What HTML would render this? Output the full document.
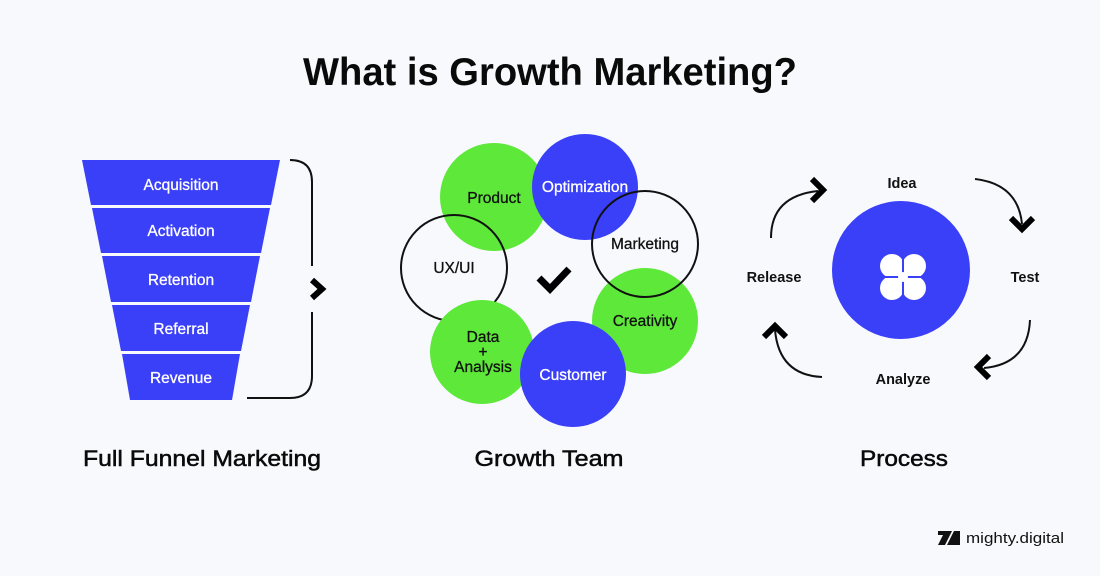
<!DOCTYPE html>
<html><head><meta charset="utf-8"><style>
html,body{margin:0;padding:0;background:#f7f9fd;}
svg{display:block;font-family:"Liberation Sans",sans-serif;}
</style></head><body>
<svg width="1100" height="576" viewBox="0 0 1100 576" xmlns="http://www.w3.org/2000/svg">
<rect width="1100" height="576" fill="#f7f9fd"/>
<text x="550" y="85" text-anchor="middle" font-size="39" font-weight="bold" fill="#0a0a0a" textLength="494" lengthAdjust="spacingAndGlyphs">What is Growth Marketing?</text>

<!-- Funnel -->
<g fill="#3a3ff8">
<polygon points="82,160 280,160 271,205 91,205"/>
<polygon points="92,208 270,208 261,253 101,253"/>
<polygon points="102,256 260,256 251,302 111,302"/>
<polygon points="112,305 250,305 241,351 121,351"/>
<polygon points="122,354 240,354 232,400 130,400"/>
</g>
<g fill="#fff" font-size="15.5" text-anchor="middle" stroke="#fff" stroke-width="0.3">
<text x="181" y="190">Acquisition</text>
<text x="181" y="236">Activation</text>
<text x="181" y="285">Retention</text>
<text x="181" y="334">Referral</text>
<text x="181" y="383">Revenue</text>
</g>
<path d="M290,160 Q312,160 312,182 L312,266" fill="none" stroke="#111" stroke-width="2"/>
<path d="M312,312 L312,376 Q312,398 290,398 L247,398" fill="none" stroke="#111" stroke-width="2"/>
<path d="M312,280 L322,289 L312,298" fill="none" stroke="#000" stroke-width="6"/>
<text x="202" y="466" text-anchor="middle" font-size="22" fill="#0a0a0a" stroke="#0a0a0a" stroke-width="0.5" textLength="238" lengthAdjust="spacingAndGlyphs">Full Funnel Marketing</text>

<!-- Growth team -->
<circle cx="494" cy="197" r="54" fill="#5de83a"/>
<circle cx="585" cy="187" r="53" fill="#3a3ff8"/>
<circle cx="645" cy="321" r="53" fill="#5de83a"/>
<circle cx="645" cy="244" r="53" fill="none" stroke="#111" stroke-width="2"/>
<circle cx="454" cy="268" r="53" fill="none" stroke="#111" stroke-width="2"/>
<circle cx="482" cy="352" r="52" fill="#5de83a"/>
<circle cx="573" cy="374" r="53" fill="#3a3ff8"/>
<path d="M539,278 L550,289 L569,269" fill="none" stroke="#000" stroke-width="7"/>
<g font-size="15.5" text-anchor="middle" fill="#111" stroke="#111" stroke-width="0.3">
<text x="494" y="203">Product</text>
<text x="585" y="192" fill="#fff" stroke="#fff">Optimization</text>
<text x="645" y="249">Marketing</text>
<text x="454" y="273">UX/UI</text>
<text x="645" y="326">Creativity</text>
<text x="483" y="342">Data</text>
<text x="483" y="357">+</text>
<text x="483" y="372">Analysis</text>
<text x="573" y="380" fill="#fff" stroke="#fff">Customer</text>
</g>
<text x="549" y="466" text-anchor="middle" font-size="22" fill="#0a0a0a" stroke="#0a0a0a" stroke-width="0.5" textLength="149" lengthAdjust="spacingAndGlyphs">Growth Team</text>

<!-- Process -->
<circle cx="901" cy="270" r="69" fill="#3a3ff8"/>
<g fill="#fff">
<circle cx="892" cy="266" r="12"/><circle cx="914" cy="266" r="12"/>
<circle cx="892" cy="288" r="12"/><circle cx="914" cy="288" r="12"/>
</g>
<g fill="#3a3ff8">
<rect x="902" y="254" width="2" height="46"/>
<rect x="880" y="276" width="46" height="2"/>
</g>
<g fill="#fff">
<circle cx="903" cy="277" r="5"/>
</g>
<g fill="none" stroke="#111" stroke-width="2">
<path d="M771,238 Q771,196 818,191"/>
<path d="M975,179 Q1018,184 1022,224"/>
<path d="M1030,320 Q1028,364 984,368"/>
<path d="M822,377 Q779,375 775,330"/>
</g>
<g fill="none" stroke="#000" stroke-width="6">
<path d="M812,179 L823,190 L812,201"/>
<path d="M1011,218 L1022,229 L1033,218"/>
<path d="M989,356 L978,367 L989,378"/>
<path d="M764,337 L775,326 L786,337"/>
</g>
<g font-size="14.5" font-weight="bold" fill="#111" text-anchor="middle">
<text x="902" y="188">Idea</text>
<text x="1025" y="282">Test</text>
<text x="774" y="282">Release</text>
<text x="903" y="384">Analyze</text>
</g>
<text x="904" y="466" text-anchor="middle" font-size="22" fill="#0a0a0a" stroke="#0a0a0a" stroke-width="0.5" textLength="88" lengthAdjust="spacingAndGlyphs">Process</text>

<!-- logo -->
<g fill="#111">
<polygon points="938,545 945,531 952,531 945,545"/>
<polygon points="947,545 954,531 960,531 960,545"/>
<rect x="938" y="531" width="10" height="4"/>
</g>
<text x="966" y="543" font-size="15" fill="#111" textLength="98" lengthAdjust="spacingAndGlyphs">mighty.digital</text>
</svg>
</body></html>
